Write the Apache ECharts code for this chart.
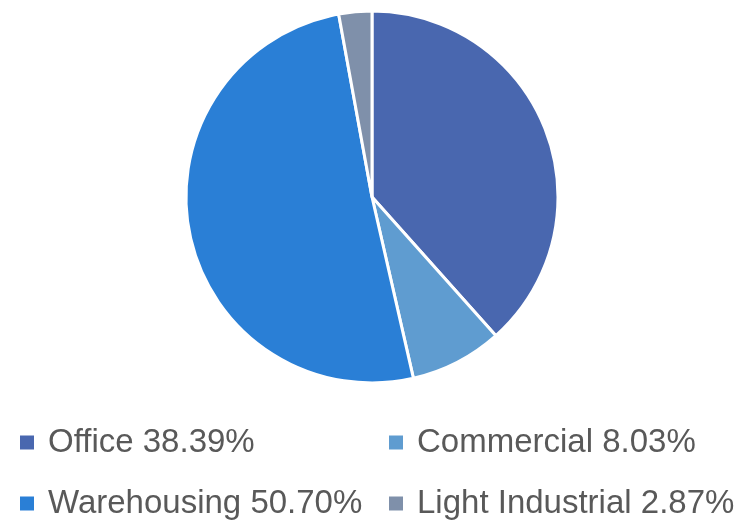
<!DOCTYPE html>
<html><head><meta charset="utf-8">
<script src="https://cdn.jsdelivr.net/npm/echarts@6/dist/echarts.min.js"></script>
<style>html,body{margin:0;padding:0;background:#fff}#c{width:746px;height:521px}</style>
</head><body><div id="c"></div>
<script>
const categories = ['Office', 'Commercial', 'Warehousing', 'Light Industrial'];
const values = [38.39, 8.03, 50.70, 2.87];
const colors = ['#4967AF', '#5F9CD0', '#2A7FD6', '#7F90AA'];

const pct = {};
categories.forEach((c, i) => pct[c] = values[i].toFixed(2) + '%');

const legendCommon = {
  orient: 'vertical',
  itemWidth: 16,
  itemHeight: 16,
  itemGap: 28,
  icon: 'rect',
  top: 426,
  height: 120,
  padding: 0,
  selectedMode: false,
  formatter: n => n + ' ' + pct[n],
  textStyle: { fontFamily: 'Liberation Sans', fontSize: 33, color: '#595959', lineHeight: 33, padding: [0, 0, 0, 8] }
};

const chart = echarts.init(document.getElementById('c'), null, { renderer: 'canvas' });
chart.setOption({
  animation: false,
  color: colors,
  legend: [
    Object.assign({}, legendCommon, { left: 18, data: [categories[0], categories[2]] }),
    Object.assign({}, legendCommon, { left: 387, data: [categories[1], categories[3]] })
  ],
  series: [{
    type: 'pie',
    center: [372, 197],
    radius: 186,
    startAngle: 90,
    clockwise: true,
    label: { show: false },
    labelLine: { show: false },
    emphasis: { disabled: true },
    itemStyle: { borderColor: '#fff', borderWidth: 3 },
    data: categories.map((c, i) => ({ name: c, value: values[i] }))
  }]
});
</script></body></html>
